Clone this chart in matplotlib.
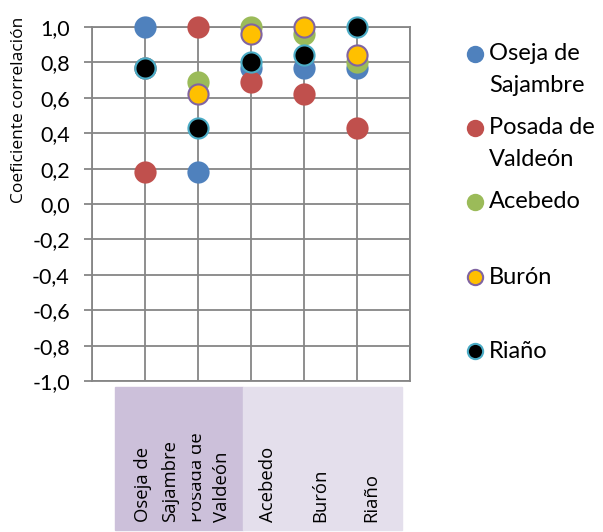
import matplotlib
matplotlib.use("Agg")
import matplotlib.pyplot as plt
from matplotlib.lines import Line2D
from matplotlib.patches import Rectangle
from matplotlib.transforms import blended_transform_factory, Bbox

# ---------------- data ----------------
categories = ["Oseja de Sajambre", "Posada de Valdeón", "Acebedo", "Burón", "Riaño"]
category_label_lines = [["Oseja de", "Sajambre"], ["Posada de", "Valdeón"],
                        ["Acebedo"], ["Burón"], ["Riaño"]]
series_names = ["Oseja de Sajambre", "Posada de Valdeón", "Acebedo", "Burón", "Riaño"]
legend_label_lines = [["Oseja de", "Sajambre"], ["Posada de", "Valdeón"],
                      ["Acebedo"], ["Burón"], ["Riaño"]]
oseja = [1.00, 0.18, 0.77, 0.77, 0.77]
posada = [0.18, 1.00, 0.69, 0.62, 0.43]
acebedo = [0.77, 0.69, 1.00, 0.96, 0.80]
buron = [0.77, 0.62, 0.96, 1.00, 0.84]
riano = [0.77, 0.43, 0.80, 0.84, 1.00]
series_values = [oseja, posada, acebedo, buron, riano]
ytick_values = [-1.0, -0.8, -0.6, -0.4, -0.2, 0.0, 0.2, 0.4, 0.6, 0.8, 1.0]
ytick_labels = ["-1,0", "-0,8", "-0,6", "-0,4", "-0,2", "0,0", "0,2", "0,4", "0,6", "0,8", "1,0"]
y_label = "Coeficiente correlación"

# ---------------- style ----------------
face_colors = ["#4F81BD", "#C0504D", "#9BBB59", "#FFC000", "#000000"]
edge_colors = ["#4F81BD", "#C0504D", "#9BBB59", "#8064A2", "#4BACC6"]
grid_color = "#868686"
W, H = 603, 532
FONT = "Lato"
LABEL_FONT = "Open Sans"

fig = plt.figure(figsize=(W / 100, H / 100), dpi=100)
fig.patch.set_facecolor("white")

def fx(px):
    return px / W

def fy(py):
    return 1 - py / H

ax = fig.add_axes([fx(92), fy(381), (410 - 92) / W, (381 - 27) / H])
ax.set_xlim(0, 6)
ax.set_ylim(-1, 1)
ax.set_xticks(range(0, 7))
ax.set_xticklabels([])
ax.tick_params(axis="x", length=0)
ax.set_yticks(ytick_values)
ax.set_yticklabels(ytick_labels, fontfamily=FONT, fontsize=15.5)
ax.tick_params(axis="y", length=6, width=1.3, color=grid_color, pad=10)
ax.grid(True, color=grid_color, linewidth=1.3)
ax.set_axisbelow(True)
for s in ax.spines.values():
    s.set_color(grid_color)
    s.set_linewidth(1.3)

xs = list(range(1, len(categories) + 1))
for vals, fc, ec, name in zip(series_values, face_colors, edge_colors, series_names):
    ax.plot(xs, vals, linestyle="none", marker="o", markersize=14.5,
            markerfacecolor=fc, markeredgecolor=ec, markeredgewidth=1.5,
            label=name, zorder=3, clip_on=False)

# y label
fig.text(fx(19), fy(110), y_label, rotation=90, ha="center", va="center",
         fontfamily=LABEL_FONT, fontsize=12.5)

# category label area
fig.add_artist(Rectangle((fx(115), fy(530)), (243 - 115) / W, (530 - 387) / H,
                         transform=fig.transFigure, color="#CCC0DA", zorder=0))
fig.add_artist(Rectangle((fx(243), fy(530)), (402 - 243) / W, (530 - 387) / H,
                         transform=fig.transFigure, color="#E4DFEC", zorder=0))
trans = blended_transform_factory(ax.transData, fig.transFigure)
px_per_unit = (410 - 92) / 6.0
# baseline offsets (px from category centre) and per-label left clip edge (px)
baseline_offsets = [[3.5, 30.0], [3.7, 28.7], [22.0], [21.0], [19.7]]
clip_left = [None, 191.7, None, None, None]
for x, lines, offs, cl in zip(xs, category_label_lines, baseline_offsets, clip_left):
    for off, line in zip(offs, lines):
        t = fig.text(x + off / px_per_unit, fy(521.7), line, rotation=90,
                     rotation_mode="anchor", ha="left", va="baseline",
                     transform=trans, fontfamily=LABEL_FONT, fontsize=13.3)
        if cl is not None:
            t.set_clip_box(Bbox.from_extents(cl, 0, W, H))
            t.set_clip_on(True)

# legend
legend_y = [54, 128, 202, 277, 351]
for (lines, fc, ec, ly) in zip(legend_label_lines, face_colors, edge_colors, legend_y):
    fig.add_artist(Line2D([fx(475)], [fy(ly)], transform=fig.transFigure, marker="o",
                          markersize=11, markerfacecolor=fc, markeredgecolor=ec,
                          markeredgewidth=1.5, linestyle="none"))
    for k, line in enumerate(lines):
        fig.text(fx(489), fy(ly + 32 * k), line, ha="left", va="center",
                 fontfamily=FONT, fontsize=17)

fig.savefig("out.png", dpi=100)
